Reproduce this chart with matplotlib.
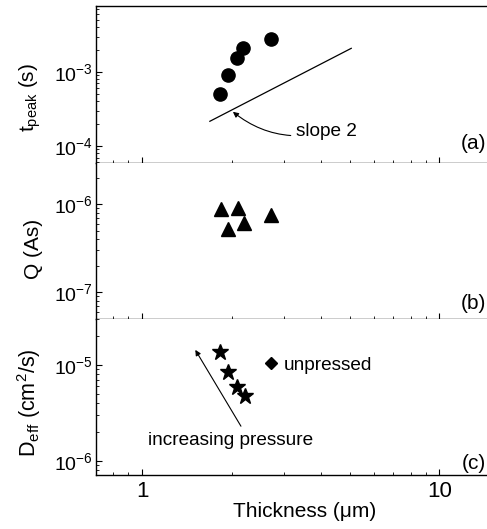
import matplotlib
matplotlib.use("Agg")
import matplotlib.pyplot as plt
from matplotlib.ticker import LogLocator, FuncFormatter, NullFormatter
import numpy as np

plt.rcParams['font.family'] = ['Liberation Sans', 'DejaVu Sans']
plt.rcParams['mathtext.fontset'] = 'custom'
plt.rcParams['mathtext.rm'] = 'Liberation Sans'
plt.rcParams['mathtext.it'] = 'Liberation Sans:italic'
plt.rcParams['mathtext.bf'] = 'Liberation Sans:bold'

# ---- data ----
thick_a = [1.83, 1.95, 2.09, 2.19, 2.71]
tpeak = [5.0e-4, 9.2e-4, 1.56e-3, 2.13e-3, 2.77e-3]
slope_x = [1.69, 5.05]
slope_y = [2.16e-4, 2.09e-3]

thick_b = [1.84, 1.95, 2.10, 2.20, 2.71]
charge = [8.8e-7, 5.3e-7, 9.0e-7, 6.1e-7, 7.6e-7]

thick_c = [1.83, 1.95, 2.09, 2.21]
deff = [1.37e-5, 8.4e-6, 5.86e-6, 4.69e-6]
thick_unp = [2.71]
deff_unp = [1.04e-5]

xlim = (0.7, 15)

fig = plt.figure(figsize=(4.87, 5.29), dpi=100)
W, H = 487, 529
left = 96 / W
width = 1.0 - left + 0.01
rows = [(6, 163), (163, 319), (319, 475)]
axes = []
for top, bot in rows:
    ax = fig.add_axes([left, 1 - bot / H, width, (bot - top) / H])
    axes.append(ax)

def yfmt(v, pos):
    e = int(round(np.log10(v)))
    return r'$10^{\mathrm{-%d}}$' % (-e) if e < 0 else r'$10^{%d}$' % e

for i, ax in enumerate(axes):
    ax.set_xscale('log')
    ax.set_yscale('log')
    ax.set_xlim(*xlim)
    ax.spines['right'].set_visible(False)
    if i > 0:
        ax.spines['top'].set_visible(False)
    for s in ax.spines.values():
        s.set_linewidth(1.0)
    ax.tick_params(which='both', direction='in', top=False, right=False)
    ax.tick_params(which='major', length=4, width=0.8)
    ax.tick_params(which='minor', length=2, width=0.6)
    ax.tick_params(axis='y', labelsize=14, pad=2)
    ax.tick_params(axis='x', labelsize=16, pad=4)
    ax.yaxis.set_major_locator(LogLocator(base=10, numticks=10))
    ax.yaxis.set_minor_locator(LogLocator(base=10, subs=np.arange(2, 10), numticks=20))
    ax.yaxis.set_major_formatter(FuncFormatter(yfmt))
    ax.yaxis.set_minor_formatter(NullFormatter())
    ax.xaxis.set_minor_formatter(NullFormatter())
    if i < 2:
        ax.tick_params(axis='x', labelbottom=False)
    else:
        ax.set_xticks([1, 10])
        ax.set_xticklabels(['1', '10'])

ann_fs = 13.7

# (a)
ax = axes[0]
ax.set_ylim(5.9e-5, 7.8e-3)
ax.plot(thick_a, tpeak, 'o', color='black', markersize=9.5, linestyle='none')
ax.plot(slope_x, slope_y, '-', color='black', linewidth=0.9)
ax.annotate('slope 2', xy=(2.02, 2.9e-4), xytext=(3.3, 1.55e-4),
            fontsize=ann_fs, va='center', ha='left',
            arrowprops=dict(arrowstyle='-|>', color='black', lw=0.8,
                            connectionstyle='arc3,rad=-0.25',
                            shrinkA=2, shrinkB=0, mutation_scale=8))
ax.text(0.985, 0.125, '(a)', transform=ax.transAxes, ha='right', va='center', fontsize=15)
ax.set_ylabel(r't$_{\mathrm{peak}}$ (s)', fontsize=15)
ax.yaxis.set_label_coords(-0.135, 0.42)

# (b)
ax = axes[1]
ax.set_ylim(5.0e-8, 2.94e-6)
ax.plot(thick_b, charge, '^', color='black', markersize=9.5, linestyle='none')
ax.text(0.985, 0.10, '(b)', transform=ax.transAxes, ha='right', va='center', fontsize=15)
ax.set_ylabel('Q (As)', fontsize=15)
ax.yaxis.set_label_coords(-0.135, 0.45)

# (c)
ax = axes[2]
ax.set_ylim(7.1e-7, 3.0e-5)
ax.plot(thick_c, deff, '*', color='black', markersize=12, linestyle='none')
ax.plot(thick_unp, deff_unp, 'D', color='black', markersize=6, linestyle='none')
ax.text(3.0, 9.8e-6, 'unpressed', fontsize=ann_fs, va='center', ha='left')
ax.annotate('', xy=(1.51, 1.43e-5), xytext=(2.15, 2.29e-6),
            arrowprops=dict(arrowstyle='-|>', color='black', lw=0.8,
                            shrinkA=0, shrinkB=0, mutation_scale=8))
ax.text(1.99, 1.64e-6, 'increasing pressure', fontsize=ann_fs, va='center', ha='center')
ax.text(0.985, 0.076, '(c)', transform=ax.transAxes, ha='right', va='center', fontsize=15)
ax.set_ylabel(r'D$_{\mathrm{eff}}$ (cm$^{2}$/s)', fontsize=15.5)
ax.yaxis.set_label_coords(-0.135, 0.46)
ax.set_xlabel('Thickness (μm)', fontsize=15)
ax.xaxis.set_label_coords(0.528, -0.175)

fig.savefig('out.png', dpi=100)
